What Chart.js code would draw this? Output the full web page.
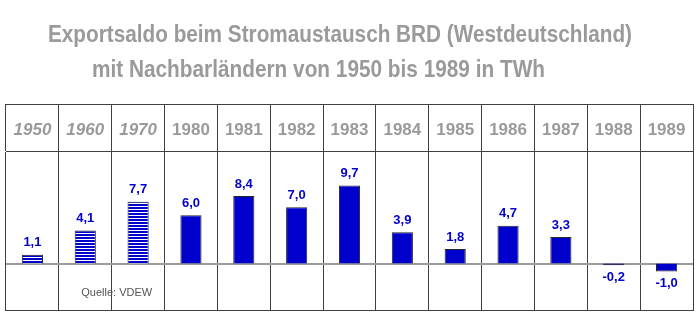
<!DOCTYPE html>
<html>
<head>
<meta charset="utf-8">
<title>Exportsaldo Stromaustausch BRD</title>
<script src="https://cdn.jsdelivr.net/npm/chart.js@4.4.1/dist/chart.umd.min.js"></script>
<style>
  html, body { margin: 0; padding: 0; background: #fff; }
  #wrap { width: 700px; height: 323px; }
</style>
</head>
<body>
<div id="wrap"><canvas id="saldo" width="700" height="323"></canvas></div>
<script>
(() => {
  'use strict';

  // Jahre (1950-1970 als Dekadenwerte) und Exportsaldo in TWh
  const years = ['1950', '1960', '1970', '1980', '1981', '1982', '1983', '1984', '1985', '1986', '1987', '1988', '1989'];
  const saldoTWh = [1.1, 4.1, 7.7, 6.0, 8.4, 7.0, 9.7, 3.9, 1.8, 4.7, 3.3, -0.2, -1.0];
  const decadeYears = ['1950', '1960', '1970'];
  const titleLines = [
    'Exportsaldo beim Stromaustausch BRD (Westdeutschland)',
    'mit Nachbarländern von 1950 bis 1989 in TWh',
  ];
  const sourceNote = 'Quelle: VDEW';

  const FONT = '"Liberation Sans", Arial, sans-serif';
  const BLUE = '#0000cc';
  const GRID = '#404040';
  const GREY_TEXT = '#9a9a9a';

  const fmt = (v) => v.toFixed(1).replace('.', ',');

  const canvas = document.getElementById('saldo');

  // horizontal blue/white stripes for the decade bars
  const stripes = (() => {
    const c = document.createElement('canvas');
    c.width = 4;
    c.height = 3;
    const g = c.getContext('2d');
    g.fillStyle = '#ffffff';
    g.fillRect(0, 0, 4, 3);
    g.fillStyle = BLUE;
    g.fillRect(0, 0, 4, 2);
    return canvas.getContext('2d').createPattern(c, 'repeat');
  })();

  const isDecade = (i) => decadeYears.includes(years[i]);

  const framePlugin = {
    id: 'frame',
    beforeDatasetsDraw(chart) {
      const { ctx, chartArea } = chart;
      const x = chart.scales.x;
      const y0 = chart.scales.y.getPixelForValue(0);
      ctx.save();
      // outer frame: top of header row and bottom edge
      ctx.strokeStyle = GRID;
      ctx.lineWidth = 1;
      ctx.beginPath();
      ctx.moveTo(chartArea.left, Math.round(x.top) + 0.5);
      ctx.lineTo(chartArea.right + 1, Math.round(x.top) + 0.5);
      ctx.moveTo(chartArea.left, Math.round(chartArea.bottom) - 0.5);
      ctx.lineTo(chartArea.right + 1, Math.round(chartArea.bottom) - 0.5);
      ctx.stroke();
      // zero line
      ctx.strokeStyle = '#9a9a9a';
      ctx.lineWidth = 2;
      ctx.beginPath();
      ctx.moveTo(chartArea.left, Math.round(y0));
      ctx.lineTo(chartArea.right, Math.round(y0));
      ctx.stroke();
      ctx.restore();
    },
  };

  const valueLabels = {
    id: 'valueLabels',
    afterDatasetsDraw(chart) {
      const { ctx } = chart;
      const meta = chart.getDatasetMeta(0);
      ctx.save();
      ctx.font = `bold 13px ${FONT}`;
      ctx.fillStyle = BLUE;
      ctx.textAlign = 'center';
      ctx.textBaseline = 'middle';
      meta.data.forEach((bar, i) => {
        const v = saldoTWh[i];
        const y = v >= 0
          ? Math.min(bar.y, bar.base) - 12
          : Math.max(bar.y, bar.base) + 12;
        ctx.fillText(fmt(v), bar.x, y);
      });
      ctx.restore();
    },
  };

  // narrow bold title: tall glyphs squeezed to a fixed line width
  const drawCondensed = (ctx, text, left, baseline, width) => {
    const natural = ctx.measureText(text).width;
    ctx.save();
    ctx.translate(left, baseline);
    ctx.scale(width / natural, 1);
    ctx.fillText(text, 0, 0);
    ctx.restore();
  };

  const textPlugin = {
    id: 'texts',
    afterDraw(chart) {
      const { ctx, chartArea } = chart;
      ctx.save();
      ctx.fillStyle = GREY_TEXT;
      ctx.font = `bold 23px ${FONT}`;
      ctx.textAlign = 'left';
      ctx.textBaseline = 'alphabetic';
      drawCondensed(ctx, titleLines[0], 48, 42, 584);
      drawCondensed(ctx, titleLines[1], 92, 77, 453);

      ctx.fillStyle = '#555555';
      ctx.font = `11px ${FONT}`;
      ctx.textBaseline = 'middle';
      ctx.fillText(sourceNote, chart.scales.x.getPixelForValue(1) - 4, chartArea.bottom - 18);
      ctx.restore();
    },
  };

  new Chart(canvas, {
    type: 'bar',
    data: {
      labels: years,
      datasets: [{
        data: saldoTWh,
        backgroundColor: saldoTWh.map((_, i) => (isDecade(i) ? stripes : BLUE)),
        borderColor: '#262626',
        borderWidth: 1,
        barPercentage: 0.4,
        categoryPercentage: 1,
      }],
    },
    options: {
      responsive: false,
      animation: false,
      events: [],
      layout: { padding: { top: 104, left: 6, right: 7, bottom: 12 } },
      plugins: {
        legend: { display: false },
        tooltip: { enabled: false },
        title: { display: false },
      },
      scales: {
        x: {
          position: 'top',
          offset: true,
          grid: { offset: true, color: GRID, lineWidth: 1, tickLength: 47, drawOnChartArea: true },
          border: { display: true, color: GRID, width: 1 },
          ticks: {
            color: GREY_TEXT,
            padding: -37,
            autoSkip: false,
            maxRotation: 0,
            font: (c) => ({
              family: FONT,
              size: 17,
              weight: 'bold',
              style: isDecade(c.index) ? 'italic' : 'normal',
            }),
          },
          afterFit(scale) { scale.height = 47; },
        },
        y: { display: false, min: -5.9, max: 14 },
      },
    },
    plugins: [framePlugin, valueLabels, textPlugin],
  });
})();
</script>
</body>
</html>
